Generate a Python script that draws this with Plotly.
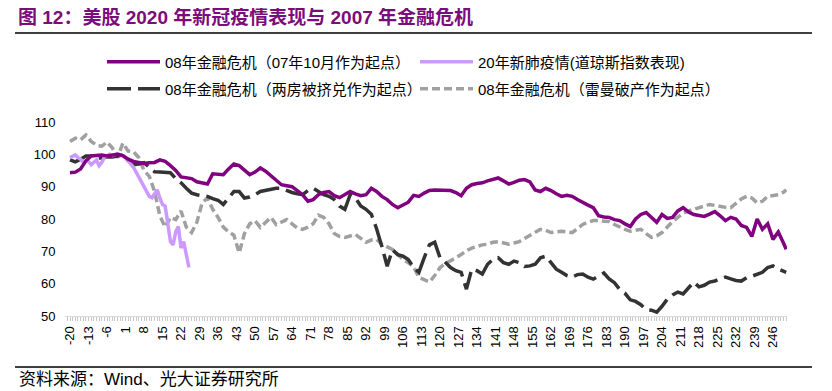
import plotly.graph_objects as go

# x categories (days relative to start point)
days = list(range(-20, 251, 2)) + [251]
covid_days = list(range(-20, 26))
tick_labels = [str(v) for v in range(-20, 247, 7)]

# 08年金融危机（07年10月作为起点）
crisis_oct07 = [
    94.3, 94.5, 95.5, 98, 99.5, 99.6, 99.8, 99.5, 99.8, 100,
    99.6, 98.5, 97.8, 97.5, 97.2, 97.4, 97.5, 98.3, 97.8, 96.5,
    95, 93, 92.8, 92.5, 91.5, 91.2, 90.8, 94, 93.8, 93.7,
    95.5, 97, 96.5, 95, 93.7, 94.5, 95.8, 94.8, 93.5, 92,
    90.6, 90.3, 90, 88.8, 87.5, 85.5, 86, 87.5, 88.2, 88.5,
    87.2, 86.6, 87.5, 88.5, 87.8, 87.2, 87.5, 89.5, 88.5, 87,
    86, 84.5, 83.5, 84.5, 85.2, 87.3, 87, 88, 88.8, 89,
    89, 88.8, 88.8, 88.2, 87.2, 89.5, 90.6, 91, 91.2, 91.8,
    92.3, 92.7, 91.8, 90.8, 91.3, 92, 92.2, 91.5, 89, 88.5,
    89.5, 88.8, 87.8, 87, 87.3, 87, 86, 85, 84.3, 83.5,
    81, 80.6, 80.5, 79.8, 79.5, 78.5, 77.7, 80, 81.4, 82,
    80.5, 79, 81.4, 80.2, 80.5, 82.5, 83.5, 82.2, 81.4, 81,
    80.8, 81.5, 82.3, 81, 79.5, 80.5, 80, 78, 77.4, 74.6,
    80, 76.8, 78.5, 73.7, 76, 72.5, 70.6,
]

# 20年新肺疫情(道琼斯指数表现)
covid_2020 = [
    99, 99.5, 99.8, 99, 98.5, 97.5, 98, 97.8, 96.8, 97.5,
    98.2, 96.5, 97.5, 99, 99.5, 100, 99.6, 99.8, 100.2, 99.8,
    99.5, 98.8, 98, 97, 96, 94.5, 93, 91, 89.5, 88,
    87, 86.6, 88, 89, 86.5, 84.5, 84, 78, 73, 72,
    76, 77.7, 71, 73, 68.5, 65,
]

# 08年金融危机（两房被挤兑作为起点）
crisis_gse = [
    98.3, 97.7, 98.5, 99.5, 99.5, 98.8, 98.9, 99.2, 99.2, 99.5,
    99.8, 98, 96.8, 97, 97.4, 96, 94.6, 94.5, 94.3, 94.3,
    92.5, 91.2, 89.5, 88, 87.5, 87.2, 87, 86.3, 85.8, 84.5,
    86.5, 88.5, 88.5, 86.5, 86.8, 87.5, 88.5, 88.8, 89, 89.5,
    89.5, 88.8, 88.2, 87.8, 87.5, 88.8, 89.5, 88.5, 87.5, 87,
    86, 84, 83, 87.5, 86.5, 84, 83, 81.5, 77, 71.5,
    65.4, 70.5, 69, 68.5, 67.5, 65, 63.5, 68, 72, 72.8,
    68, 66.6, 65, 64, 63.5, 58.3, 64.5, 64, 63, 66,
    67.5, 68, 66.5, 66, 67, 66.5, 65.3, 65.5, 66, 68,
    68.5, 66.5, 64.5, 63.5, 62.5, 62, 62.8, 63, 62, 61.4,
    62.5, 63.3, 61.5, 60.3, 58.2, 57, 55, 54.5, 53.5, 52,
    51.8, 51.2, 53, 55.2, 56.5, 57.4, 56.8, 58.5, 60.5, 59,
    59.5, 60.5, 60.8, 61.5, 62, 61.5, 61, 60.8, 61.8, 62.3,
    63, 63.5, 65, 65.5, 64.5, 63.8, 63.5,
]

# 08年金融危机（雷曼破产作为起点）
crisis_lehman = [
    104, 105, 104.5, 106, 104, 102.8, 102.5, 103.8, 102, 99,
    103.5, 101, 100.8, 99, 95, 93.2, 88.5, 81, 77.5, 80.5,
    79.8, 82.5, 77.5, 75.8, 79, 85, 86.5, 83, 80.5, 77.5,
    76, 75, 69.5, 75.5, 78.5, 79.5, 77.4, 79, 80.5, 78.3,
    79, 79.8, 78.5, 77.2, 76.8, 77.5, 78.5, 81.2, 80.5, 78.5,
    75.5, 74.6, 74.3, 74.8, 75.2, 74, 72.8, 73.5, 73.7, 72.2,
    71.5, 70.6, 69, 67.5, 66.5, 65.2, 62, 61.2, 60.5, 62.5,
    65, 66.2, 67, 68, 69, 70.2, 71, 71.5, 72, 72.2,
    72.8, 73, 72.5, 72.2, 72.6, 73, 74, 75, 75.8, 76.8,
    76.5, 75.8, 76, 76.2, 76, 75.8, 77, 78.3, 79, 79.5,
    79.5, 79.4, 79.2, 78.3, 77.4, 76.8, 76.2, 76.5, 76.8, 75.5,
    74.3, 74.8, 75.8, 77.5, 79.2, 80.5, 81.8, 82.5, 83, 83.5,
    84, 84.5, 84.2, 83.8, 83.6, 83.5, 85, 86.2, 87, 86.5,
    85, 85.5, 87, 87.3, 87.5, 88.3, 89,
]

names = [
    "08年金融危机（07年10月作为起点）",
    "20年新肺疫情(道琼斯指数表现)",
    "08年金融危机（两房被挤兑作为起点）",
    "08年金融危机（雷曼破产作为起点）",
]

FONT = "Liberation Sans, Arial, Noto Sans CJK SC, sans-serif"

# page has an 8px body margin: figure is drawn 8px right/down of window origin
OFF = 8
W, H = 832 - OFF, 391 - OFF
L, R, T, B = 65 - OFF, 832 - 787, 122 - OFF, 391 - 316
PW, PH = W - L - R, H - T - B


def px(x):  # window pixel -> paper x
    return (x - OFF - L) / PW


def py(y):  # window pixel -> paper y
    return (H - B - (y - OFF)) / PH


fig = go.Figure()
fig.add_trace(go.Scatter(x=days, y=crisis_lehman, name=names[3], mode="lines",
                         line=dict(color="#A0A0A0", width=3.5, dash="8px,4px"),
                         legend="legend2", legendrank=2))
fig.add_trace(go.Scatter(x=days, y=crisis_gse, name=names[2], mode="lines",
                         line=dict(color="#333333", width=3.5, dash="24px,7px"),
                         legend="legend2", legendrank=1))
fig.add_trace(go.Scatter(x=covid_days, y=covid_2020, name=names[1], mode="lines",
                         line=dict(color="#CC99FF", width=3.5),
                         legend="legend", legendrank=2))
fig.add_trace(go.Scatter(x=days, y=crisis_oct07, name=names[0], mode="lines",
                         line=dict(color="#800080", width=3.5),
                         legend="legend", legendrank=1))

leg_common = dict(orientation="h", xref="container", yref="container",
                  xanchor="left", yanchor="middle", x=(102 - OFF) / W,
                  font=dict(family=FONT, size=15, color="#000000"),
                  bgcolor="rgba(0,0,0,0)", itemwidth=53, entrywidth=245,
                  traceorder="normal", itemclick=False)

fig.update_layout(
    width=W, height=H,
    margin=dict(l=L, r=R, t=T, b=B, autoexpand=False),
    paper_bgcolor="white", plot_bgcolor="white",
    font=dict(family=FONT, size=13, color="#000000"),
    legend=dict(leg_common, y=1 - (62 - OFF) / H),
    legend2=dict(leg_common, y=1 - (89 - OFF) / H),
    title=dict(text="<b>图 12：美股 2020 年新冠疫情表现与 2007 年金融危机</b>",
               xref="container", yref="container", x=(18 - OFF) / W, xanchor="left",
               y=1 - (17 - OFF) / H, yanchor="middle",
               font=dict(family=FONT, size=19, color="#7B0C7B")),
    xaxis=dict(range=[-21.9, 251.3], tickmode="array",
               tickvals=list(range(-20, 247, 7)), ticktext=tick_labels,
               tickangle=-90, showgrid=False, zeroline=False,
               showline=True, linecolor="#D9D9D9", linewidth=1,
               ticks="outside", ticklen=4, tickcolor="#C8C8C8",
               minor=dict(dtick=1, tick0=-20, ticks="outside", ticklen=4,
                          tickcolor="#C8C8C8", showgrid=False),
               tickfont=dict(family=FONT, size=13, color="#000000")),
    yaxis=dict(range=[50, 110], tickmode="linear", tick0=50, dtick=10,
               showgrid=False, zeroline=False, showline=False,
               ticks="outside", ticklen=6, tickcolor="rgba(0,0,0,0)",
               tickfont=dict(family=FONT, size=13, color="#000000")),
    shapes=[
        dict(type="line", xref="paper", yref="paper",
             x0=px(15), x1=px(812), y0=py(33), y1=py(33),
             line=dict(color="#000000", width=1.5)),
        dict(type="line", xref="paper", yref="paper",
             x0=px(15), x1=px(812), y0=py(367), y1=py(367),
             line=dict(color="#000000", width=1.5)),
    ],
    annotations=[
        dict(text="资料来源：Wind、光大证券研究所", xref="paper", yref="paper",
             x=px(17), y=py(379), xanchor="left",
             yanchor="middle", showarrow=False,
             font=dict(family=FONT, size=17, color="#000000")),
    ],
)

fig.write_html("out.html")
